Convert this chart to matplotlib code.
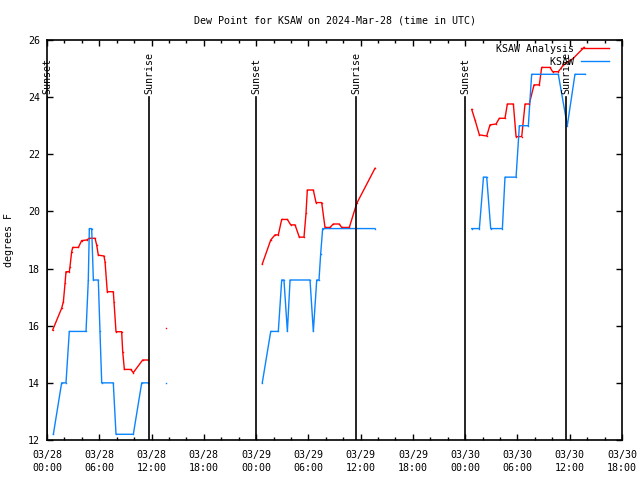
import numpy as np
import matplotlib
matplotlib.use("Agg")
from matplotlib import pyplot as plt

nan = np.nan

# hours since 2024-03-28 00:00 UTC
analysis_hours = [0.65, 1.68, 1.88, 2.07, 2.18, 2.56, 2.64, 2.83, 2.95, 3.6, 3.98, 4.55, 4.86, 5.51,
                  5.7, 5.89, 6.54, 6.66, 6.92, 7.61, 7.69, 7.92, 8.57, 8.69, 8.88, 9.6, 9.91, 10.98,
                  11.6, nan, 13.66, nan,
                  24.71, 25.68, 26.17, 26.55, 26.94, 27.59, 27.97, 28.47, 28.96, 29.5, 29.73, 29.88,
                  30.57, 30.88, 31.53, 31.91, 32.48, 32.86, 33.55, 33.82, 34.7, 35.55, 37.65, nan,
                  48.75, 49.13, 49.63, 50.47, 50.85, 51.54, 51.92, 52.57, 52.84, 53.53, 53.84, 54.49,
                  54.87, 55.36, 55.9, 56.51, 56.78, 57.74, 58.04, 58.69, 59.26, 60.41, 61.64]
analysis_dewpt = [15.85, 16.61, 16.84, 17.48, 17.89, 17.89, 18.07, 18.59, 18.74, 18.74, 18.98, 19.0,
                  19.06, 19.06, 18.83, 18.47, 18.44, 18.24, 17.19, 17.19, 16.84, 15.79, 15.79, 15.09,
                  14.47, 14.47, 14.36, 14.8, 14.8, nan, 15.91, nan,
                  18.16, 19.0, 19.18, 19.18, 19.72, 19.72, 19.53, 19.53, 19.1, 19.1, 19.93, 20.75,
                  20.75, 20.31, 20.31, 19.44, 19.44, 19.56, 19.56, 19.44, 19.44, 20.28, 21.51, nan,
                  23.57, 23.2, 22.68, 22.64, 23.03, 23.06, 23.26, 23.26, 23.76, 23.76, 22.62, 22.62,
                  23.76, 23.76, 24.43, 24.43, 25.04, 25.04, 24.89, 24.89, 25.12, 25.36, 25.74]

obs_hours = [0.73, 1.68, 2.18, 2.56, 4.48, 4.74, 4.86, 5.13, 5.32, 5.89, 6.08, 6.28, 7.61, 7.92,
             9.91, 10.87, 11.6, nan, 13.66, nan,
             24.71, 25.68, 26.55, 26.94, 27.2, 27.59, 27.9, 30.19, 30.57, 30.96, 31.22, 31.41,
             31.64, 37.65, nan,
             48.75, 49.63, 50.1, 50.47, 50.93, 52.27, 52.57, 53.84, 54.22, 55.25, 55.63, 58.69,
             59.72, 60.6, 61.75]
obs_dewpt = [12.2, 14.0, 14.0, 15.8, 15.8, 17.6, 19.4, 19.4, 17.6, 17.6, 15.8, 14.0, 14.0, 12.2,
             12.2, 14.0, 14.0, nan, 14.0, nan,
             14.0, 15.8, 15.8, 17.6, 17.6, 15.8, 17.6, 17.6, 15.8, 17.6, 17.6, 18.5,
             19.4, 19.4, nan,
             19.4, 19.4, 21.2, 21.2, 19.4, 19.4, 21.2, 21.2, 23.0, 23.0, 24.8, 24.8,
             23.0, 24.8, 24.8]

sunset_hours = [0.0, 24.0, 48.0]
sunrise_hours = [11.7, 35.5, 59.6]

tick_hours = list(range(0, 67, 6))
tick_labels = ["03/28\n00:00", "03/28\n06:00", "03/28\n12:00", "03/28\n18:00",
               "03/29\n00:00", "03/29\n06:00", "03/29\n12:00", "03/29\n18:00",
               "03/30\n00:00", "03/30\n06:00", "03/30\n12:00", "03/30\n18:00"]

mono = "DejaVu Sans Mono"
fs = 7.2
plt.rcParams["font.family"] = mono
plt.rcParams["font.size"] = fs

fig = plt.figure(figsize=(6.4, 4.8), dpi=100)
ax = fig.add_axes([47 / 640, 40 / 480, 575 / 640, 400 / 480])

red = "#ff0000"
blue = "#0a84ff"

ax.plot(analysis_hours, analysis_dewpt, color=red, lw=1.0, label="KSAW Analysis")
ax.plot(obs_hours, obs_dewpt, color=blue, lw=1.0, label="         KSAW")
# single isolated samples need a visible dot
ax.plot(analysis_hours, analysis_dewpt, color=red, ls="none", marker="s", ms=1.0, mew=0)
ax.plot(obs_hours, obs_dewpt, color=blue, ls="none", marker="s", ms=1.0, mew=0)

for h in sunset_hours:
    ax.plot([h, h], [12, 24.0], color="black", lw=1.2)
    ax.text(h, 24.12, "Sunset", rotation=90, ha="center", va="bottom", fontsize=fs)
for h in sunrise_hours:
    ax.plot([h, h], [12, 24.0], color="black", lw=1.2)
    ax.text(h, 24.12, "Sunrise", rotation=90, ha="center", va="bottom", fontsize=fs)

ax.set_xlim(0, 66)
ax.set_ylim(12, 26)
ax.set_xticks(tick_hours)
ax.set_xticklabels(tick_labels, linespacing=1.35)
ax.set_xticks(range(0, 67, 2), minor=True)
ax.set_yticks(range(12, 27, 2))
ax.tick_params(axis="x", pad=7)
ax.tick_params(axis="y", pad=5)
ax.tick_params(direction="in", top=True, right=True, length=4, width=1, labelsize=fs)
ax.tick_params(which="minor", direction="in", top=True, right=True, length=2.5, width=1)
for s in ax.spines.values():
    s.set_linewidth(1.2)

ax.set_ylabel("degrees F", fontsize=fs, labelpad=10)
ax.set_title("Dew Point for KSAW on 2024-Mar-28 (time in UTC)", fontsize=fs, pad=12)

ax.legend(loc="upper right", bbox_to_anchor=(1 - 12 / 575, 1 - 3 / 400), frameon=False,
          markerfirst=False, handlelength=2.8, handletextpad=0.65, labelspacing=0.3,
          borderaxespad=0, borderpad=0.1, prop={"family": mono, "size": fs})

fig.savefig("out.png", dpi=100)
